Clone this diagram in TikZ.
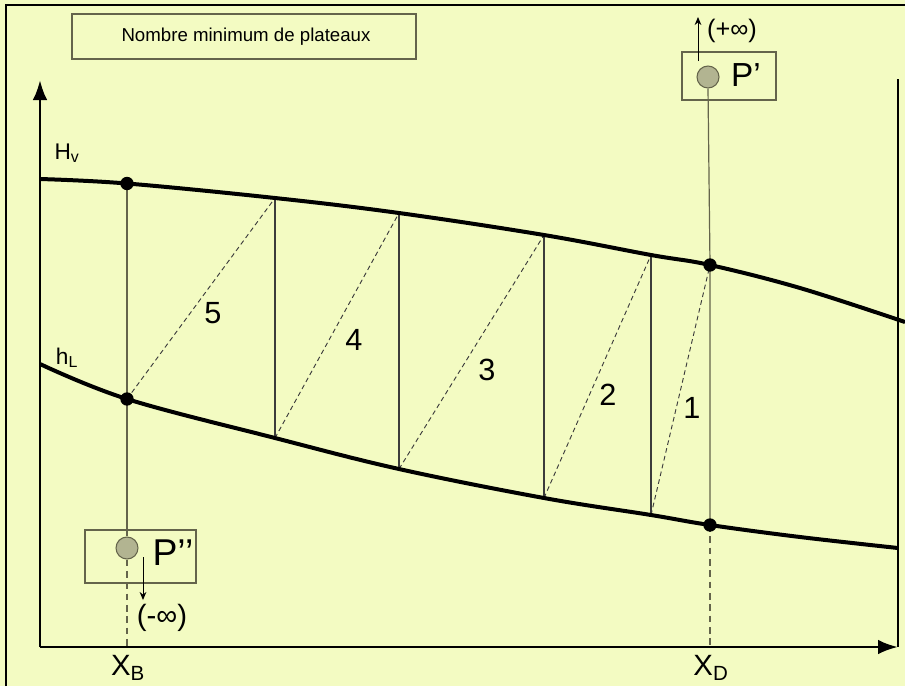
\documentclass[tikz,border=0pt]{standalone}
\usepackage{fontspec}
\setmainfont{Liberation Sans}
\usetikzlibrary{arrows.meta}
\definecolor{bgc}{RGB}{243,251,194}
\definecolor{olv}{RGB}{100,100,75}
\definecolor{ptfill}{RGB}{178,180,145}
\definecolor{dgray}{RGB}{60,60,60}
\tikzset{
  curve/.style={line width=3pt, black},
  axisln/.style={line width=2.2pt, black},
  stage/.style={line width=0.8pt, dgray},
  dashln/.style={line width=0.7pt, dgray, dash pattern=on 3.5pt off 2.5pt},
  xline/.style={line width=0.9pt, olv},
  xdash/.style={line width=0.9pt, olv, dash pattern=on 5pt off 3.5pt},
  dot/.style={circle, fill=black, inner sep=0pt, minimum size=10pt},
  pt/.style={circle, draw=olv, fill=ptfill, line width=0.8pt, inner sep=0pt, minimum size=16.5pt},
  boxst/.style={draw=olv, line width=0.9pt, inner sep=0pt},
  lbl/.style={inner sep=0pt, font=\fontsize{23pt}{26pt}\selectfont},
  inf/.style={-{Stealth[length=6pt,width=5pt]}, line width=0.7pt, black}
}
\begin{document}
\begin{tikzpicture}[x=0.75pt,y=-0.75pt]
\useasboundingbox (0,0) rectangle (905,686);
\fill[bgc] (0,0) rectangle (905,686);
% frame (top and left edges)
\coordinate (f0) at (6,686);
\coordinate (f1) at (6,5);
\coordinate (f2) at (905,5);
\draw[line width=1.6pt] (f0) -- (f1) -- (f2);

% title
\node[boxst, minimum width=258pt, minimum height=33.75pt] (titlebox) at (244,36.5) {};
\node[inner sep=0pt, font=\fontsize{14pt}{16pt}\selectfont] (title) at (246,36.5) {Nombre minimum de plateaux};

% axes
\coordinate (O) at (40,647);
\coordinate (ytop) at (40,80);
\coordinate (xend) at (898,647);
\coordinate (rtop) at (898,79);
\draw[axisln, -{Latex[length=15pt,width=11pt]}] (O) -- (ytop);
\draw[axisln, -{Latex[length=15pt,width=11pt]}] (O) -- (xend);
\draw[axisln] (rtop) -- (xend);

% curve points
\coordinate (u0) at (40,179);
\coordinate (uB) at (127,183.5);
\coordinate (u1) at (275,198);
\coordinate (u2) at (399,213);
\coordinate (u3) at (544,235);
\coordinate (u4) at (651,255);
\coordinate (uD) at (710,265);
\coordinate (u5) at (800,288);
\coordinate (uE) at (905,322);
\coordinate (l0) at (40,364);
\coordinate (lB) at (127,399);
\coordinate (l1) at (275,438);
\coordinate (l2) at (399,469);
\coordinate (l3) at (544,498);
\coordinate (l4) at (651,515);
\coordinate (lD) at (710,525);
\coordinate (l5) at (800,537);
\coordinate (lE) at (898,548);

% stage verticals
\draw[stage] (u1) -- (l1);
\draw[stage] (u2) -- (l2);
\draw[stage] (u3) -- (l3);
\draw[stage] (u4) -- (l4);
% dashed operating steps
\draw[dashln] (lB) -- (u1);
\draw[dashln] (l1) -- (u2);
\draw[dashln] (l2) -- (u3);
\draw[dashln] (l3) -- (u4);
\draw[dashln] (l4) -- (uD);

% P' and P'' boxes
\node[boxst, minimum width=70.5pt, minimum height=36pt] (pbox1) at (729,76) {};
\node[boxst, minimum width=83.25pt, minimum height=39.75pt] (pbox2) at (140.5,556.5) {};
\node[pt] (p1) at (708,77) {};
\node[pt] (p2) at (127,548) {};
\node[inner sep=0pt, font=\fontsize{25pt}{28pt}\selectfont] (p1t) at (746,75) {P’};
\node[inner sep=0pt, font=\fontsize{28pt}{31pt}\selectfont] (p2t) at (173,553) {P’’};

% X_B and X_D lines
\coordinate (xB) at (127,647);
\coordinate (xD) at (710,647);
\draw[xline] (p1.south) -- (uD) -- (lD);
\draw[xdash] (lD) -- (xD);
\draw[xline] (uB) -- (lB) -- (p2.north);
\draw[xdash] (p2.south) -- (xB);

% curves
\draw[curve] plot[smooth, tension=0.6] coordinates {(u0) (uB) (u1) (u2) (u3) (u4) (uD) (u5) (uE)};
\draw[curve] plot[smooth, tension=0.6] coordinates {(l0) (lB) (l1) (l2) (l3) (l4) (lD) (l5) (lE)};

% dots
\node[dot] (dBu) at (uB) {};
\node[dot] (dBl) at (lB) {};
\node[dot] (dDu) at (uD) {};
\node[dot] (dDl) at (lD) {};

% infinity arrows
\coordinate (a1s) at (698,61);
\coordinate (a1e) at (698,17);
\draw[inf] (a1s) -- (a1e);
\node[inner sep=0pt, font=\fontsize{19pt}{22pt}\selectfont] (pinf) at (732,31) {(+∞)};
\coordinate (a2s) at (143,557);
\coordinate (a2e) at (143,600);
\draw[inf] (a2s) -- (a2e);
\node[inner sep=0pt, font=\fontsize{22pt}{26pt}\selectfont] (minf) at (162,618) {(-∞)};

% stage numbers
\node[lbl] (n1) at (692,408) {1};
\node[lbl] (n2) at (608,395) {2};
\node[lbl] (n3) at (487,370) {3};
\node[lbl] (n4) at (354,340) {4};
\node[lbl] (n5) at (213,313) {5};

% axis labels
\node[inner sep=0pt, font=\fontsize{17pt}{19pt}\selectfont] (hv) at (67,153) {H\textsubscript{v}};
\node[inner sep=0pt, font=\fontsize{17pt}{19pt}\selectfont] (hl) at (67,358) {h\textsubscript{L}};
\node[inner sep=0pt, font=\fontsize{22pt}{25pt}\selectfont] (xbl) at (128,668) {X\textsubscript{B}};
\node[inner sep=0pt, font=\fontsize{22pt}{25pt}\selectfont] (xdl) at (711,668) {X\textsubscript{D}};
\end{tikzpicture}
\end{document}
